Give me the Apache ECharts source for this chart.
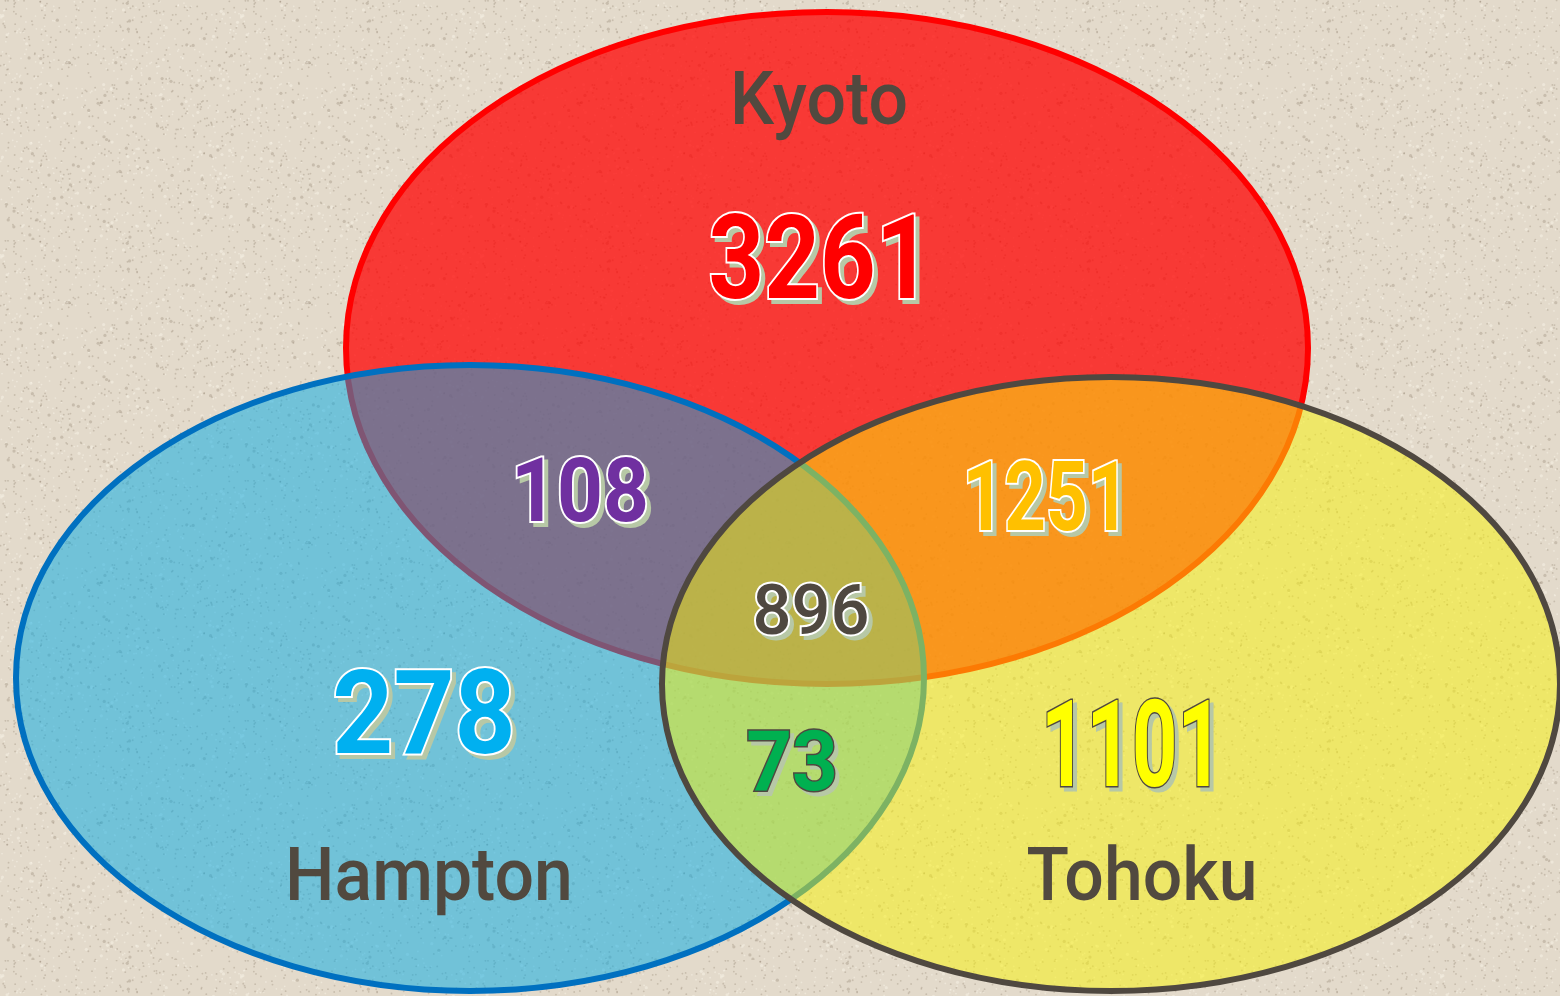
<!DOCTYPE html>
<html>
<head>
<meta charset="utf-8">
<title>Kyoto / Hampton / Tohoku</title>
<script src="https://cdn.jsdelivr.net/npm/echarts@6/dist/echarts.min.js"></script>
<style>
  html, body { margin: 0; padding: 0; }
  #chart { width: 1560px; height: 996px; }
</style>
</head>
<body>
<div id="chart"></div>
<script>
// data
const setNames = ["Kyoto", "Hampton", "Tohoku"];
const regionNames = [
  "Kyoto", "Hampton", "Tohoku",
  "Kyoto ∩ Hampton", "Kyoto ∩ Tohoku", "Hampton ∩ Tohoku",
  "Kyoto ∩ Hampton ∩ Tohoku",
];
const regionCounts = [3261, 278, 1101, 108, 1251, 73, 896];

// layout, in chart units (axes run 0..1560 and 0..996)
const ellipseShapes = [
  { cx: 827, cy: 348, rx: 481, ry: 336 },
  { cx: 470, cy: 678, rx: 454, ry: 313 },
  { cx: 1111, cy: 684, rx: 449, ry: 307 },
];
const ellipseStyles = [
  { fill: "rgba(255,0,0,0.74)", stroke: "#ff0000" },
  { fill: "rgba(0,170,230,0.5)", stroke: "#0070c0" },
  { fill: "rgba(250,243,5,0.5)", stroke: "#4f4840" },
];
const nameAnchors = [[819, 105], [429, 881], [1142, 881]];
const regionAnchors = [[820, 269], [424, 724], [1132, 756], [580, 499], [1046, 506], [792, 769], [811, 616]];
const regionStyles = [
  { size: 117, sx: 0.83, weight: 700, fill: "#ff0000", line: "#ffffff", lw: 4 },
  { size: 117, sx: 0.91, weight: 700, fill: "#00b0f0", line: "#ffffff", lw: 4 },
  { size: 120, sx: 0.66, weight: 700, fill: "#ffff00", line: "#4f4840", lw: 3 },
  { size: 89, sx: 0.9, weight: 700, fill: "#7030a0", line: "#ffffff", lw: 4 },
  { size: 97, sx: 0.75, weight: 700, fill: "#ffc000", line: "#ffffff", lw: 4 },
  { size: 84, sx: 0.95, weight: 700, fill: "#00b050", line: "#4f4840", lw: 3 },
  { size: 70, sx: 0.98, weight: 500, fill: "#4f4840", line: "#ffffff", lw: 4 },
];
const shadowColor = "#b7c8a6";
const nameColor = "#51493f";

// paper texture for the background
function paper() {
  const c = document.createElement("canvas");
  c.width = 240;
  c.height = 240;
  const ctx = c.getContext("2d");
  ctx.fillStyle = "#e3dacb";
  ctx.fillRect(0, 0, 240, 240);
  let s = 12345;
  const next = () => {
    s = (s * 1103515245 + 12345) % 2147483648;
    return s / 2147483648;
  };
  for (let i = 0; i < 1400; i++) {
    const x = next() * 240;
    const y = next() * 240;
    const r = next() < 0.1 ? 1.6 : 0.9;
    ctx.fillStyle = next() < 0.55 ? "rgba(120,105,85,0.25)" : "rgba(250,246,236,0.45)";
    ctx.beginPath();
    ctx.arc(x, y, r, 0, Math.PI * 2);
    ctx.fill();
  }
  return c;
}

const chart = echarts.init(document.getElementById("chart"));

const option = {
  backgroundColor: { image: paper(), repeat: "repeat" },
  animation: false,
  grid: { left: 0, right: 0, top: 0, bottom: 0 },
  xAxis: { type: "value", min: 0, max: 1560, show: false },
  yAxis: { type: "value", min: 0, max: 996, inverse: true, show: false },
  series: [
    {
      name: "sets",
      type: "custom",
      z: 2,
      data: setNames.map((n, i) => ({ name: n, value: [i] })),
      renderItem: (params, api) => {
        const e = ellipseShapes[params.dataIndex];
        const st = ellipseStyles[params.dataIndex];
        const c = api.coord([e.cx, e.cy]);
        const r = api.size([e.rx, e.ry]);
        return {
          type: "ellipse",
          shape: { cx: c[0], cy: c[1], rx: r[0], ry: r[1] },
          style: { fill: st.fill, stroke: st.stroke, lineWidth: 6 },
        };
      },
    },
    {
      name: "set names",
      type: "custom",
      z: 3,
      data: setNames.map((n, i) => ({ name: n, value: [i] })),
      renderItem: (params, api) => {
        const p = api.coord(nameAnchors[params.dataIndex]);
        return {
          type: "text",
          x: p[0],
          y: p[1],
          scaleX: 0.93,
          style: {
            text: setNames[params.dataIndex],
            x: 0,
            y: 0,
            align: "center",
            verticalAlign: "middle",
            fontFamily: "Roboto",
            fontWeight: 500,
            fontSize: 75,
            fill: nameColor,
          },
        };
      },
    },
    {
      name: "regions",
      type: "custom",
      z: 4,
      data: regionCounts.map((v, i) => ({ name: regionNames[i], value: [v] })),
      renderItem: (params, api) => {
        const i = params.dataIndex;
        const s = regionStyles[i];
        const p = api.coord(regionAnchors[i]);
        const txt = String(api.value(0));
        const font = {
          text: txt,
          x: 0,
          y: 0,
          align: "center",
          verticalAlign: "middle",
          fontFamily: "Roboto",
          fontWeight: s.weight,
          fontSize: s.size,
          lineWidth: s.lw,
        };
        return {
          type: "group",
          children: [
            {
              type: "text",
              x: p[0] + 4,
              y: p[1] + 4,
              scaleX: s.sx,
              style: Object.assign({}, font, { fill: shadowColor, stroke: shadowColor }),
            },
            {
              type: "text",
              x: p[0],
              y: p[1],
              scaleX: s.sx,
              style: Object.assign({}, font, { fill: s.fill, stroke: s.line }),
            },
          ],
        };
      },
    },
  ],
};

chart.setOption(option);
</script>
</body>
</html>
